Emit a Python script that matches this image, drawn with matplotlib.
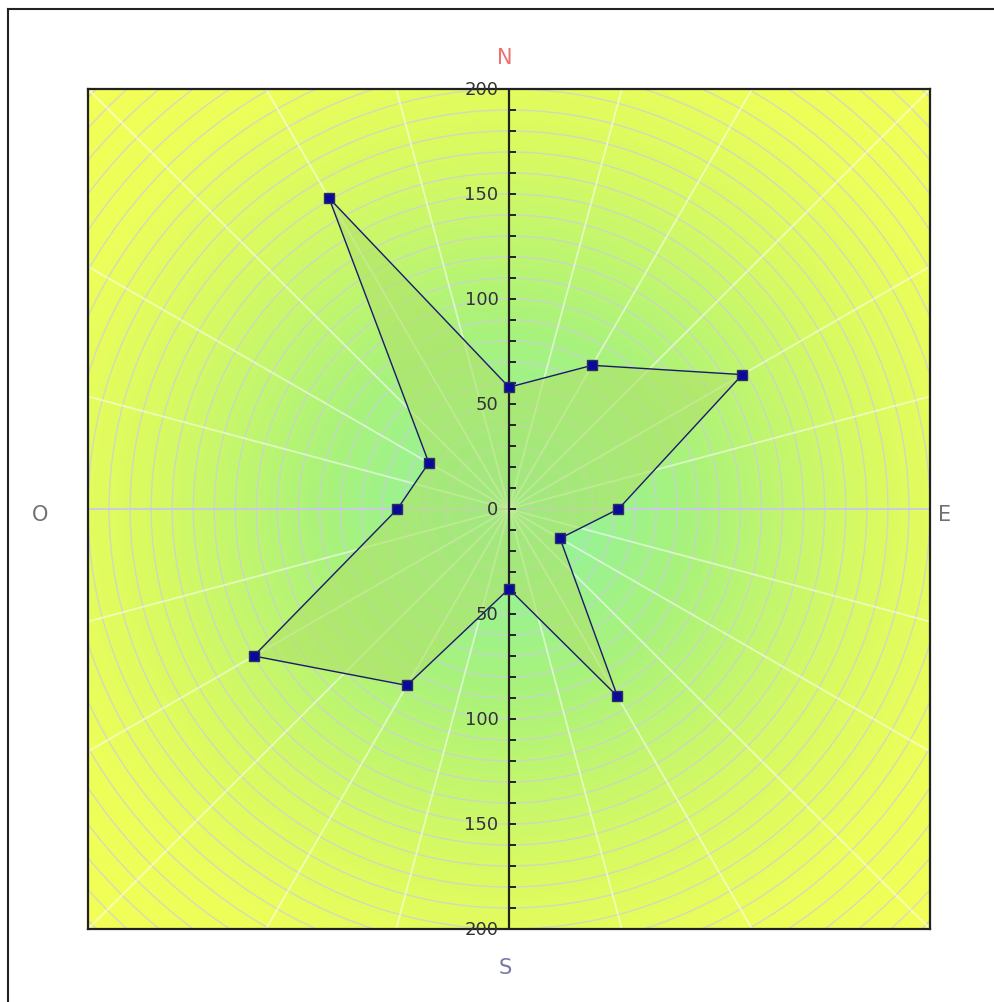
import numpy as np
import matplotlib as mpl
import matplotlib.pyplot as plt
from matplotlib.colors import LinearSegmentedColormap
from matplotlib.lines import Line2D

# direcciones (grados desde el norte, sentido horario) y valores
angulos = [0, 30, 60, 90, 120, 150, 180, 210, 240, 270, 300, 330]
valores = [58, 79, 128, 52, 28, 103, 38, 97, 140, 53, 44, 171]
marcas = [200, 150, 100, 50, 0, 50, 100, 150, 200]
posiciones = [200, 150, 100, 50, 0, -50, -100, -150, -200]
puntos_cardinales = ["N", "E", "S", "O"]

fig = plt.figure(figsize=(9.95, 10.03), dpi=100)
ax = fig.add_axes([88 / 995, 73 / 1003, 842 / 995, 840 / 1003])
ax.set_xlim(-200, 200)
ax.set_ylim(-200, 200)
ax.set_aspect("auto")

# fondo con degradado radial
cmap = LinearSegmentedColormap.from_list(
    "fondo", [(0, "#8cf4a8"), (0.3, "#a8f27c"), (0.6, "#d8fa62"), (0.8, "#ecfe5a"), (1, "#f4fe58")])
xx, yy = np.meshgrid(np.linspace(-200, 200, 400), np.linspace(-200, 200, 400))
rr = np.sqrt(xx ** 2 + yy ** 2) / 283
ax.imshow(rr, cmap=cmap, extent=(-200, 200, -200, 200), origin="lower",
          vmin=0, vmax=1, zorder=0, aspect="auto")

# anillos y radios
t = np.linspace(0, 2 * np.pi, 400)
for r in range(10, 300, 10):
    ax.plot(r * np.cos(t), r * np.sin(t), color="#cccce0", lw=1.0, alpha=0.7, zorder=1)
for a in range(0, 360, 15):
    th = np.deg2rad(a)
    ax.plot([0, 300 * np.sin(th)], [0, 300 * np.cos(th)], color="white", lw=1.3,
            alpha=0.55, zorder=1)
ax.axhline(0, color="#c4c4e8", lw=1.2, zorder=1)

# eje vertical con marcas
ax.axvline(0, color="#222222", lw=1.6, zorder=4)
for y in range(-200, 201, 10):
    ax.plot([0, 3], [y, y], color="#222222", lw=1.4, zorder=4)
for y, etiqueta in zip(posiciones, marcas):
    ax.text(-5, y, str(etiqueta), ha="right", va="center", fontsize=13,
            color="#333333", zorder=5)

# poligono de datos
th = np.deg2rad(angulos + [angulos[0]])
v = np.array(valores + [valores[0]])
px = v * np.sin(th)
py = v * np.cos(th)
ax.fill(px, py, color="#b0e268", alpha=0.6, zorder=2)
ax.plot(px, py, color="#1a1a70", lw=1.0, zorder=3)
ax.plot(px[:-1], py[:-1], linestyle="none", marker="s", markersize=7,
        markerfacecolor="#0a0a9a", markeredgecolor="#303060", zorder=6)

ax.set_xticks([])
ax.set_yticks([])
for s in ax.spines.values():
    s.set_linewidth(1.6)
    s.set_color("#222222")

# puntos cardinales
fig.text(505 / 995, 1 - 58 / 1003, "N", color="#f07070", fontsize=15, ha="center", va="center")
fig.text(945 / 995, 1 - 515 / 1003, "E", color="#707070", fontsize=15, ha="center", va="center")
fig.text(505 / 995, 1 - 968 / 1003, "S", color="#7878a8", fontsize=15, ha="center", va="center")
fig.text(40 / 995, 1 - 515 / 1003, "O", color="#707070", fontsize=15, ha="center", va="center")

# marco exterior
fig.add_artist(Line2D([8 / 995, 1], [1 - 10 / 1003, 1 - 10 / 1003], color="#222222", lw=1.5))
fig.add_artist(Line2D([8 / 995, 8 / 995], [0, 1 - 10 / 1003], color="#222222", lw=1.5))

fig.savefig("out.png", dpi=100)
